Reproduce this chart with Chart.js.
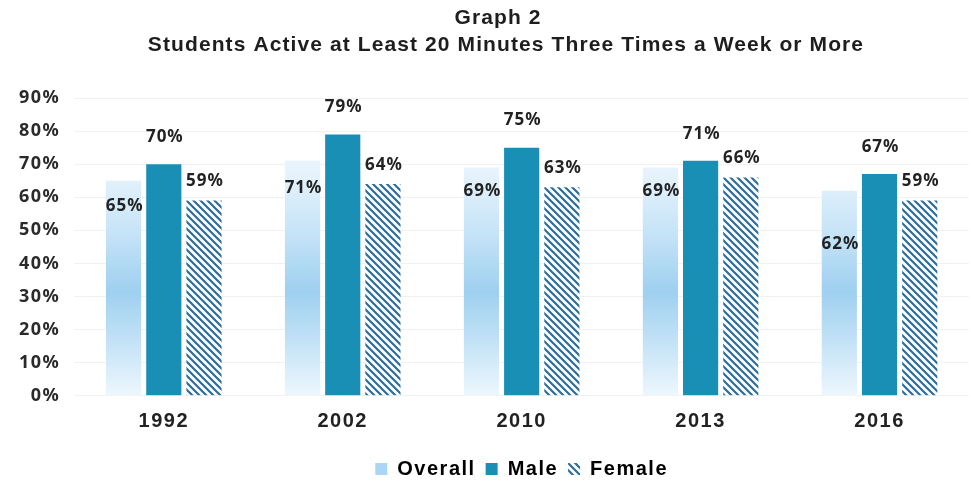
<!DOCTYPE html>
<html lang="en">
<head>
<meta charset="UTF-8" />
<title>Graph 2</title>
<style>
  html, body { margin: 0; padding: 0; background: #fff; }
  #wrap { width: 971px; height: 481px; }
</style>
</head>
<body>
<div id="wrap"><canvas id="chart"></canvas></div>
<script src="https://cdn.jsdelivr.net/npm/chart.js"></script>
<script>
  const years = ['1992', '2002', '2010', '2013', '2016'];
  const overall = [65, 71, 69, 69, 62];
  const male = [70, 79, 75, 71, 67];
  const female = [59, 64, 63, 66, 59];
  const yTicks = [0, 10, 20, 30, 40, 50, 60, 70, 80, 90];
  const titleLines = ['Graph 2', 'Students Active at Least 20 Minutes Three Times a Week or More'];

  // how far the Overall labels sit below the bar top
  const overallLabelDrop = [25, 27, 24, 24, 54];

  const MALE = '#1a8fb5';
  const STRIPE = '#2b6d9c';
  const ARIAL = '"Liberation Sans", Arial, sans-serif';
  const SPACING = '1.5px';

  function stripePattern() {
    const c = document.createElement('canvas');
    c.width = 7; c.height = 7;
    const g = c.getContext('2d');
    g.fillStyle = '#fff';
    g.fillRect(0, 0, 7, 7);
    g.strokeStyle = STRIPE;
    g.lineWidth = 2.2;
    g.beginPath();
    g.moveTo(-1, -1); g.lineTo(8, 8);
    g.moveTo(-8, -1); g.lineTo(1, 8);
    g.moveTo(6, -1); g.lineTo(15, 8);
    g.stroke();
    return g.createPattern(c, 'repeat');
  }
  const femaleFill = stripePattern();

  function overallFill(context) {
    const area = context.chart.chartArea;
    if (!area) return '#b9dcf4';
    const g = context.chart.ctx.createLinearGradient(0, area.bottom, 0, area.top);
    g.addColorStop(0, '#eef7fd');
    g.addColorStop(0.2, '#bfe0f6');
    g.addColorStop(0.35, '#9fd0f0');
    g.addColorStop(0.55, '#c6e4f7');
    g.addColorStop(0.75, '#e6f3fc');
    g.addColorStop(1, '#f6fbfe');
    return g;
  }

  // axis and legend text is set a little wider than the font's default
  const wideText = {
    id: 'wideText',
    beforeLayout(chart) { chart.ctx.letterSpacing = SPACING; },
    beforeDraw(chart) { chart.ctx.letterSpacing = SPACING; },
    beforeDatasetsDraw(chart) { chart.ctx.letterSpacing = '0px'; }
  };

  const heading = {
    id: 'heading',
    afterDraw(chart) {
      const ctx = chart.ctx;
      ctx.save();
      ctx.letterSpacing = '1.1px';
      ctx.font = 'bold 21px ' + ARIAL;
      ctx.fillStyle = '#1e1e1e';
      ctx.textAlign = 'center';
      ctx.textBaseline = 'middle';
      ctx.fillText(titleLines[0], 498, 18);
      ctx.fillText(titleLines[1], 506, 45);
      ctx.restore();
    }
  };

  const valueLabels = {
    id: 'valueLabels',
    afterDatasetsDraw(chart) {
      const ctx = chart.ctx;
      ctx.save();
      ctx.letterSpacing = '1px';
      ctx.font = 'bold 17px "Noto Sans", sans-serif';
      ctx.fillStyle = '#222';
      ctx.textAlign = 'center';
      ctx.textBaseline = 'middle';
      chart.data.datasets.forEach((ds, di) => {
        chart.getDatasetMeta(di).data.forEach((bar, i) => {
          let y;
          if (di === 0) y = bar.y + overallLabelDrop[i];
          else if (di === 1) y = bar.y - 27;
          else y = bar.y - 19;
          ctx.fillText(ds.data[i] + '%', bar.x + 1, y);
        });
      });
      ctx.restore();
    }
  };

  new Chart(document.getElementById('chart'), {
    type: 'bar',
    data: {
      labels: years,
      datasets: [
        { label: 'Overall', data: overall, backgroundColor: overallFill },
        { label: 'Male', data: male, backgroundColor: MALE },
        { label: 'Female', data: female, backgroundColor: femaleFill }
      ]
    },
    options: {
      responsive: true,
      maintainAspectRatio: false,
      animation: false,
      categoryPercentage: 0.674,
      barPercentage: 0.875,
      layout: { padding: { left: 5, right: 2, top: 98, bottom: -8 } },
      plugins: {
        title: { display: false },
        legend: {
          position: 'bottom',
          fullSize: false,
          labels: {
            color: '#222',
            font: { family: ARIAL, size: 20, weight: 'bold' },
            boxWidth: 12,
            boxHeight: 12,
            padding: 10,
            generateLabels(chart) {
              const fills = ['#a9d6f2', MALE, femaleFill];
              return chart.data.datasets.map((ds, i) => ({
                text: ds.label,
                fillStyle: fills[i],
                strokeStyle: 'rgba(0,0,0,0)',
                lineWidth: 0,
                datasetIndex: i
              }));
            }
          }
        },
        tooltip: { enabled: false }
      },
      scales: {
        x: {
          grid: { display: false, drawTicks: false },
          border: { display: false },
          ticks: {
            color: '#222',
            padding: 14,
            font: { family: ARIAL, size: 20, weight: 'bold' }
          },
          // empty title only keeps a gap above the legend
          title: { display: true, text: ' ', font: { size: 1 }, padding: { top: 0, bottom: 0 } }
        },
        y: {
          min: 0,
          max: 90,
          afterBuildTicks(axis) { axis.ticks = yTicks.map(v => ({ value: v })); },
          grid: { color: '#f1f1f1', lineWidth: 1, drawTicks: false },
          border: { display: false },
          ticks: {
            color: '#2a2a2a',
            padding: 14,
            callback: v => v + '%',
            font: { family: '"Noto Sans", sans-serif', size: 18, weight: 'bold' }
          }
        }
      }
    },
    plugins: [wideText, heading, valueLabels]
  });
</script>
</body>
</html>
